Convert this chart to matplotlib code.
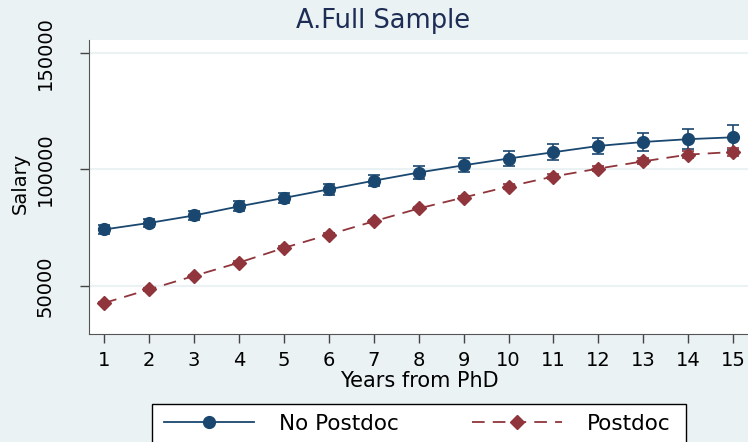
import matplotlib.pyplot as plt
import matplotlib.patches as mpatches
from matplotlib.lines import Line2D

years = list(range(1, 16))
no_postdoc = [74200, 77000, 80200, 84100, 87700, 91400, 95100, 98600,
              101700, 104600, 107300, 110000, 111700, 112900, 113700]
no_postdoc_err = [1800, 1900, 2000, 2100, 2200, 2300, 2400, 2600,
                  3000, 3300, 3500, 3600, 4000, 4300, 5400]
postdoc = [42700, 48500, 54300, 60000, 66300, 72000, 77700, 83200,
           87900, 92600, 96900, 100300, 103400, 106300, 107400]
postdoc_err = [600, 600, 600, 600, 650, 700, 700, 750,
               800, 900, 1000, 1100, 1300, 1500, 1800]
y_ticks = [50000, 100000, 150000]

navy = '#1a476f'
maroon = '#90353b'
bg = '#eaf2f3'

plt.rcParams['font.family'] = ['DejaVu Sans']

fig = plt.figure(figsize=(7.48, 4.42), dpi=100, facecolor=bg)
ax = fig.add_axes([89 / 748, 108 / 442, 659 / 748, 294 / 442])
ax.set_facecolor('white')

ax.errorbar(years, no_postdoc, yerr=no_postdoc_err, color=navy, marker='o',
            markersize=8.5, lw=1.3, capsize=4, elinewidth=1.2, capthick=1.2,
            zorder=3)
ax.errorbar(years, postdoc, yerr=postdoc_err, color=maroon, marker='D',
            markersize=7.5, lw=1.3, dashes=(7, 4.5), capsize=4, elinewidth=1.2,
            capthick=1.2, zorder=3)

ax.set_xlim(0.66, 15.33)
ax.set_ylim(29400, 155400)
ax.set_xticks(years)
ax.set_yticks(y_ticks)
ax.set_yticklabels([str(v) for v in y_ticks], rotation=90, va='center')
ax.grid(axis='y', color=bg, lw=1.5)
ax.set_axisbelow(True)
for s in ['top', 'right']:
    ax.spines[s].set_visible(False)
for s in ['left', 'bottom']:
    ax.spines[s].set_color('#555555')
ax.tick_params(axis='both', direction='out', length=6.5, width=1, color='#444444',
               labelsize=14)
ax.tick_params(axis='y', pad=18)
ax.tick_params(axis='x', pad=6)

fig.text(419 / 748, 1 - 381 / 442, 'Years from PhD', ha='center', va='center',
         fontsize=15)
fig.text(20 / 748, 1 - 183 / 442, 'Salary', ha='center', va='center',
         rotation=90, fontsize=14)
fig.text(383.5 / 748, 1 - 20.5 / 442, 'A.Full Sample', ha='center', va='center',
         fontsize=18.5, color='#1e2d55')

# legend box
fig.patches.append(mpatches.Rectangle((152 / 748, -0.05), 534 / 748, 0.05 + 38 / 442,
                                      transform=fig.transFigure, facecolor='white',
                                      edgecolor='black', lw=1))
handles = [Line2D([], [], color=navy, marker='o', markersize=8.5, lw=1.3),
           Line2D([], [], color=maroon, marker='D', markersize=7.5, lw=1.3,
                  dashes=(7, 4.5))]
fig.legend(handles, ['No Postdoc', 'Postdoc'], loc='center',
           bbox_to_anchor=(417 / 748, 1 - 424 / 442), ncol=2, frameon=False,
           fontsize=15.5, handlelength=4.2, handletextpad=1.15,
           columnspacing=3.4)

fig.savefig('out.png', dpi=100, facecolor=bg)
